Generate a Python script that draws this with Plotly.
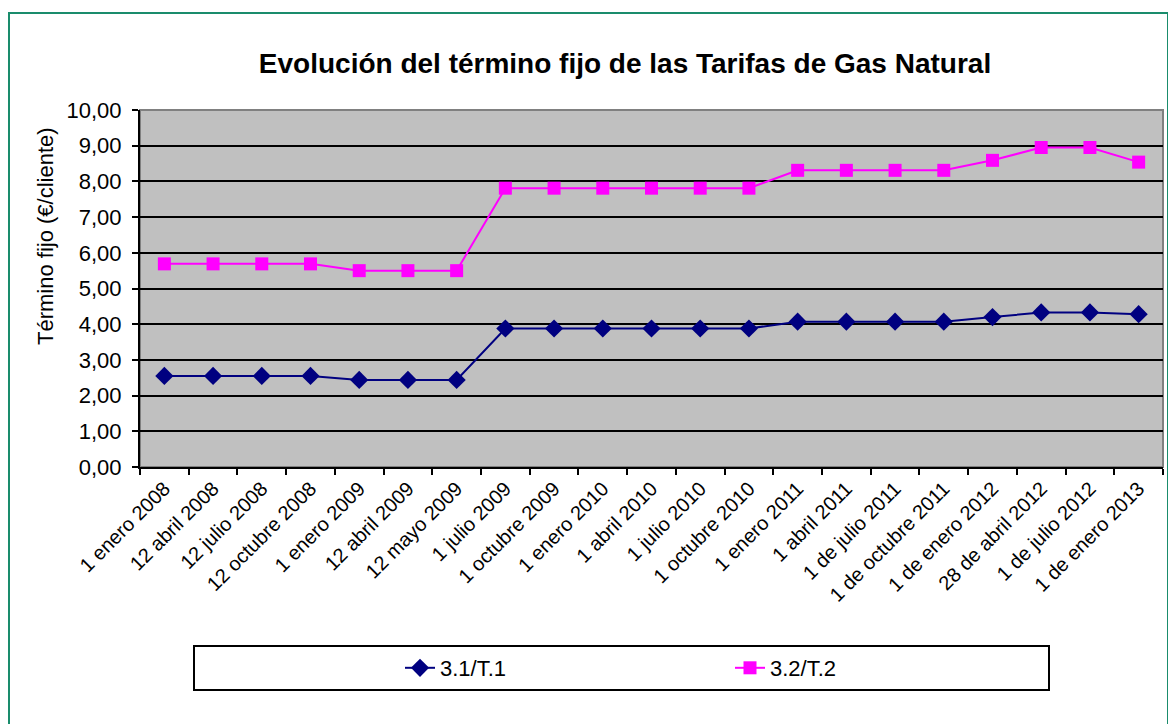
import plotly.graph_objects as go

categories = [
    "1 enero 2008", "12 abril 2008", "12 julio 2008", "12 octubre 2008",
    "1 enero 2009", "12 abril 2009", "12 mayo 2009", "1 julio 2009",
    "1 octubre 2009", "1 enero 2010", "1 abril 2010", "1 julio 2010",
    "1 octubre 2010", "1 enero 2011", "1 abril 2011", "1 de julio 2011",
    "1 de octubre 2011", "1 de enero 2012", "28 de abril 2012",
    "1 de julio 2012", "1 de enero 2013",
]
t1_values = [2.55, 2.55, 2.55, 2.55, 2.44, 2.44, 2.44, 3.88, 3.88, 3.88, 3.88,
             3.88, 3.88, 4.07, 4.07, 4.07, 4.07, 4.20, 4.33, 4.33, 4.28]
t2_values = [5.69, 5.69, 5.69, 5.69, 5.50, 5.50, 5.50, 7.81, 7.81, 7.81, 7.81,
             7.81, 7.81, 8.31, 8.31, 8.31, 8.31, 8.59, 8.95, 8.95, 8.54]
y_ticks = [0, 1, 2, 3, 4, 5, 6, 7, 8, 9, 10]
y_ticktext = ["0,00", "1,00", "2,00", "3,00", "4,00", "5,00", "6,00", "7,00",
              "8,00", "9,00", "10,00"]

# page body has an 8px margin; work in page pixel coordinates and offset
OFF = 8
W, H = 1176 - OFF, 724 - OFF
PL, PR, PT, PB = 140, 1163, 110, 467          # plot area in page px
L = PL - OFF
T = PT - OFF
R = W - (PR - OFF)
B = H - (PB - OFF)
PW = PR - PL
PH = PB - PT


def px_x(p):
    return (p - PL) / PW


def px_y(p):
    return (PB - p) / PH


FONT = "Liberation Sans, Arial, sans-serif"

fig = go.Figure()
fig.add_trace(go.Scatter(
    x=categories, y=t1_values, name="3.1/T.1", mode="lines+markers",
    line=dict(color="#000080", width=2),
    marker=dict(symbol="diamond", size=14, color="#000080"),
))
fig.add_trace(go.Scatter(
    x=categories, y=t2_values, name="3.2/T.2", mode="lines+markers",
    line=dict(color="#FF00FF", width=2),
    marker=dict(symbol="square", size=13, color="#FF00FF"),
))

shapes = [
    dict(type="rect", xref="paper", yref="paper", x0=0, x1=1, y0=0, y1=1,
         line=dict(color="#808080", width=2), layer="below"),
    dict(type="rect", xref="paper", yref="paper",
         x0=px_x(194), x1=px_x(1049), y0=px_y(646), y1=px_y(690),
         line=dict(color="black", width=2)),
    dict(type="rect", xref="paper", yref="paper",
         x0=px_x(9), x1=px_x(1168), y0=px_y(740), y1=px_y(13),
         line=dict(color="#1a8c6c", width=2)),
]

fig.update_layout(
    width=W, height=H,
    margin=dict(l=L, r=R, t=T, b=B),
    paper_bgcolor="white",
    plot_bgcolor="#C0C0C0",
    font=dict(family=FONT, color="black", size=20),
    title=dict(text="<b>Evolución del término fijo de las Tarifas de Gas Natural</b>",
               x=(625 - OFF) / W, xanchor="center", y=1 - (63 - OFF) / H,
               yanchor="middle",
               font=dict(family=FONT, size=28, color="black")),
    showlegend=True,
    legend=dict(orientation="h", x=px_x(400), xanchor="left",
                y=px_y(668), yanchor="middle",
                entrywidth=285, entrywidthmode="pixels",
                bgcolor="rgba(0,0,0,0)", font=dict(size=22, family=FONT)),
    shapes=shapes,
    annotations=[dict(text="Término fijo (€/cliente)", textangle=-90,
                      xref="paper", yref="paper", x=px_x(45), y=px_y(236),
                      xanchor="center", yanchor="middle", showarrow=False,
                      font=dict(size=22, family=FONT, color="black"))],
)

fig.update_xaxes(
    type="category", tickangle=-45, tickfont=dict(size=20, family=FONT),
    showgrid=False, showline=True, linecolor="black", linewidth=2,
    ticks="outside", tickson="boundaries", ticklen=6, tickcolor="black",
    tickwidth=1.5, range=[-0.5, len(categories) - 0.5],
)
fig.update_yaxes(
    range=[0, 10], tickvals=y_ticks, ticktext=y_ticktext,
    tickfont=dict(size=22, family=FONT), ticklabelstandoff=6,
    showgrid=True, gridcolor="black", gridwidth=2,
    showline=True, linecolor="black", linewidth=2,
    ticks="outside", ticklen=6, tickcolor="black", tickwidth=1.5,
    zeroline=False,
)

fig.write_html("out.html")
